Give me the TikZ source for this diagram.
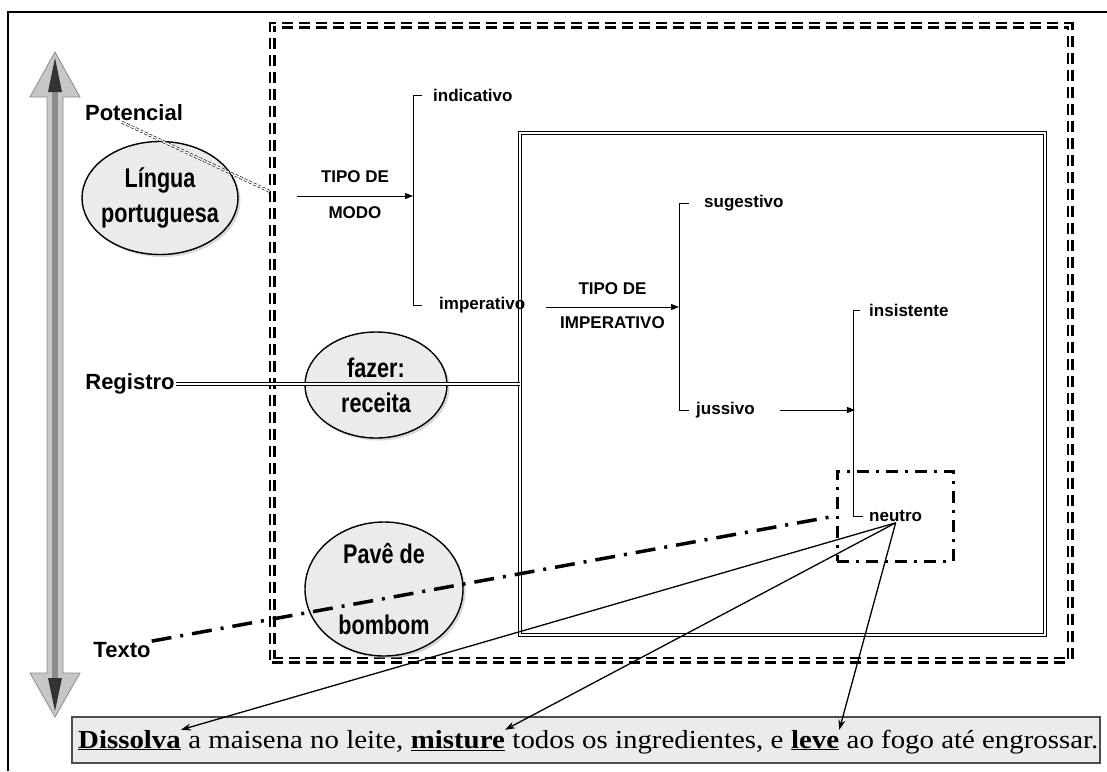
\documentclass[tikz,border=0pt]{standalone}
\usepackage{fontspec}
\setmainfont{Liberation Serif}
\setsansfont{Liberation Sans}
\newfontfamily\bolhafont{Liberation Sans}[FakeStretch=0.8]
\newfontfamily\frasefont{Liberation Serif}[FakeStretch=1.11]
\usetikzlibrary{arrows.meta,shapes.geometric,shadows,positioning,calc}

\newcommand{\destaque}[1]{\textbf{\underline{#1}}}

\tikzset{
  eixo/.style={font=\sffamily\bfseries\fontsize{22}{22}\selectfont, inner sep=1pt},
  rotulo/.style={font=\sffamily\bfseries\fontsize{17}{17}\selectfont, inner sep=1pt},
  bolha/.style={ellipse, draw, line width=1.4pt, fill=black!8,
    drop shadow={shadow xshift=2.5pt, shadow yshift=-2.5pt, fill=black!30}},
  bolhatxt/.style={font=\bolhafont\bfseries\fontsize{27}{35}\selectfont, align=center, inner sep=0pt},
  chave/.style={line width=0.8pt},
  seta/.style={line width=1pt, -{Triangle[length=8pt,width=6pt]}},
  ligacao/.style={line width=1.3pt, -{Stealth[length=10pt,width=7pt]}},
  moldura/.style={draw, line width=2.4pt, double, double distance=2.2pt, dash pattern=on 11pt off 6pt},
  caixa/.style={draw, line width=1pt, double, double distance=2pt},
  duplo/.style={line width=0.9pt, double, double distance=1.6pt},
  duplotraco/.style={line width=0.6pt, double, double distance=1.5pt, dash pattern=on 3pt off 2pt},
  tracoponto/.style={line width=3.5pt, dash pattern=on 20pt off 9pt on 3pt off 9pt},
  caixaponto/.style={draw, line width=3pt, dash pattern=on 12pt off 7pt on 3pt off 7pt},
  frase/.style={font=\frasefont\fontsize{26}{26}\selectfont, inner sep=0pt, anchor=base west},
}

\begin{document}
\begin{tikzpicture}[x=1pt, y=-1pt]
  \useasboundingbox (0,0) rectangle (1107,771);
  \draw[line width=2.5pt] (8,771) -- (8,12) -- (1107,12);

  % eixo potencial / texto
  \fill[black!22, draw=black!45, line width=0.8pt] (55,52) -- (80,97) -- (63,97) -- (63,673)
    -- (80,673) -- (55,717) -- (30,673) -- (47,673) -- (47,97) -- (30,97) -- cycle;
  \fill[black!45] (52,90) rectangle (58,680);
  \fill[black!80] (55,58) -- (62,92) -- (48,92) -- cycle;
  \fill[black!80] (55,711) -- (62,678) -- (48,678) -- cycle;

  \node[eixo] (pot) at (134,113) {Potencial};
  \node[eixo] (reg) at (130,384) {Registro};
  \node[eixo] (txt) at (122,650) {Texto};

  % molduras
  \node[moldura, minimum width=798pt, minimum height=635pt] (borda) at (671,342.5) {};
  \node[caixa, minimum width=525pt, minimum height=502pt] (caixa) at (782.5,384) {};
  \node[caixaponto, minimum width=116pt, minimum height=90pt] (caixaneutro) at (895,516) {};

  % contextos
  \node[bolha, minimum width=156pt, minimum height=113pt] (lingua) at (160,198) {};
  \node[bolhatxt] (lingua-t) at (lingua) {Língua\\portuguesa};
  \node[bolha, minimum width=142pt, minimum height=106pt] (fazer) at (376,385) {};
  \node[bolhatxt] (fazer-t) at (fazer) {fazer:\\receita};
  \node[bolha, minimum width=158pt, minimum height=134pt] (pave) at (384,589) {};
  \node[bolhatxt] (pave-t) at (pave) {Pavê de\\[36pt]bombom};

  \coordinate (pot-fim) at (271,192);
  \draw[duplotraco] ($(pot.south)+(-12,0)$) -- (pot-fim);
  \draw[duplo] (reg.east) -- (caixa.west);

  % tipo de modo
  \coordinate (m0) at (297,196);
  \coordinate (m1) at (413,196);
  \draw[seta] (m0) -- (m1)
    node[rotulo, midway, above=12pt] (tmodo1) {TIPO DE}
    node[rotulo, midway, below=9pt] (tmodo2) {MODO};
  \node[rotulo, anchor=west] (indic) at (432,95) {indicativo};
  \node[rotulo, anchor=west] (imper) at (438,305) {imperativo};
  \draw[chave] ($(indic.west)+(-10,0)$) -- ++(-9,0) |- ($(imper.west)+(-16,0)$);

  % tipo de imperativo
  \coordinate (i0) at (546,307);
  \coordinate (i1) at (679,307);
  \draw[seta] (i0) -- (i1)
    node[rotulo, midway, above=11pt] (timp1) {TIPO DE}
    node[rotulo, midway, below=8pt] (timp2) {IMPERATIVO};
  \node[rotulo, anchor=west] (suges) at (703,203) {sugestivo};
  \node[rotulo, anchor=west] (juss) at (695,410) {jussivo};
  \draw[chave] ($(suges.west)+(-14,0)$) -- ++(-10,0) |- ($(juss.west)+(-6,0)$);

  \node[rotulo, anchor=west] (insist) at (868,310) {insistente};
  \node[rotulo, anchor=west] (neutro) at (868,516) {neutro};
  \draw[chave] ($(insist.west)+(-8,0)$) -- ++(-7,0) |- ($(neutro.west)+(-5,0)$);
  \draw[seta] ($(juss.east)+(24,0)$) -- ++(75,0);

  \draw[tracoponto] (txt.north east) -- (caixaneutro.west);

  % frase da receita
  \node[draw=black!70, line width=2pt, fill=black!8, minimum width=1028pt,
    minimum height=46pt, inner sep=0pt] (quadro) at (586,740) {};
  \node[frase] (w1) at (78,748) {\destaque{Dissolva}};
  \node[frase] (w2) at (w1.base east) {\ a maisena no leite,};
  \node[frase] (w3) at (w2.base east) {\ \destaque{misture}};
  \node[frase] (w4) at (w3.base east) {\ todos os ingredientes, e};
  \node[frase] (w5) at (w4.base east) {\ \destaque{leve}};
  \node[frase] (w6) at (w5.base east) {\ ao fogo até engrossar.};

  \draw[ligacao] (neutro.south) -- (w1.north east);
  \draw[ligacao] (neutro.south) -- (w3.north east);
  \draw[ligacao] (neutro.south) -- (w5.north east);
\end{tikzpicture}
\end{document}
